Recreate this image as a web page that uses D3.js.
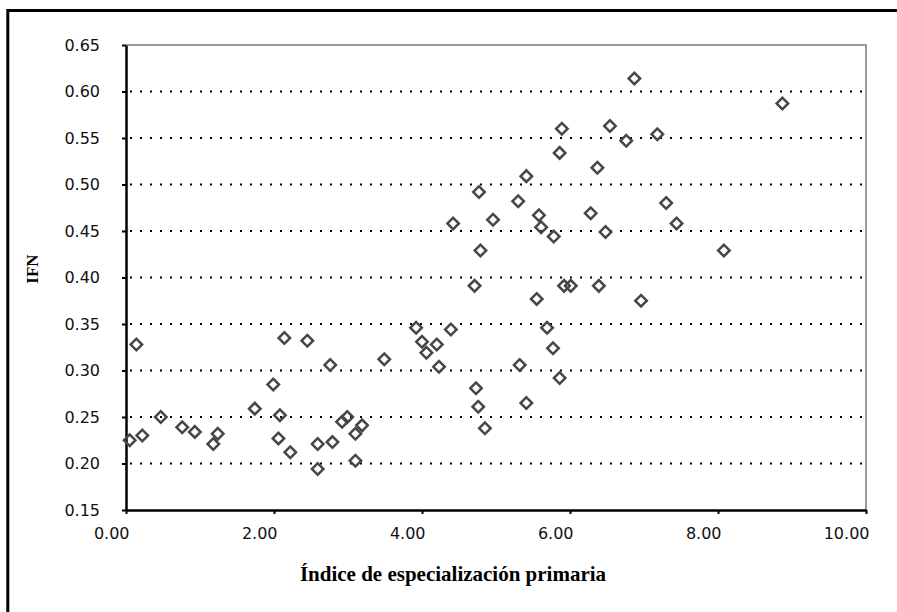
<!DOCTYPE html>
<html>
<head>
<meta charset="utf-8">
<script src="https://cdn.jsdelivr.net/npm/d3@7"></script>
<style>
  body { margin: 0; background: white; }
  .tick text { font-family: "DejaVu Sans", Verdana, sans-serif; font-size: 16px; fill: #111; }
  .title { font-family: "Times New Roman", "Liberation Serif", serif; font-weight: bold; fill: #000; }
</style>
</head>
<body>
<div id="chart"></div>
<script>
var width = 897
var height = 612
var margin = {top: 45, right: 31, bottom: 102, left: 126}

// Data

var indice = [0.05, 0.14, 0.22, 0.47, 0.76, 0.93, 1.18, 1.24, 1.74, 1.99,
              2.06, 2.08, 2.14, 2.22, 2.45, 2.59, 2.59, 2.76, 2.79, 2.92,
              2.99, 3.10, 3.10, 3.19, 3.49, 3.92, 4.00, 4.06, 4.20, 4.23,
              4.39, 4.42, 4.71, 4.73, 4.76, 4.77, 4.79, 4.85, 4.96, 5.30,
              5.32, 5.41, 5.41, 5.55, 5.58, 5.61, 5.69, 5.77, 5.78, 5.86,
              5.86, 5.89, 5.92, 6.01, 6.28, 6.37, 6.39, 6.48, 6.54, 6.76,
              6.87, 6.96, 7.18, 7.30, 7.44, 8.08, 8.87];
var ifn = [0.225, 0.328, 0.230, 0.250, 0.239, 0.234, 0.221, 0.232, 0.259, 0.285,
           0.227, 0.252, 0.335, 0.212, 0.332, 0.221, 0.194, 0.306, 0.223, 0.245,
           0.250, 0.232, 0.203, 0.241, 0.312, 0.346, 0.331, 0.319, 0.328, 0.304,
           0.344, 0.458, 0.391, 0.281, 0.261, 0.492, 0.429, 0.238, 0.462, 0.482,
           0.306, 0.509, 0.265, 0.377, 0.467, 0.454, 0.346, 0.324, 0.444, 0.534,
           0.292, 0.560, 0.391, 0.391, 0.469, 0.518, 0.391, 0.449, 0.563, 0.547,
           0.614, 0.375, 0.554, 0.480, 0.458, 0.429, 0.587];
var xTicks = [0, 2, 4, 6, 8, 10];
var yTicks = [0.15, 0.20, 0.25, 0.30, 0.35, 0.40, 0.45, 0.50, 0.55, 0.60, 0.65];
var xTitle = "Índice de especialización primaria";
var yTitle = "IFN";

var points = indice.map(function(d, i) { return {x: d, y: ifn[i]}; });

var x_scale = d3.scaleLinear()
    .domain([0, 10])
    .range([margin.left, width - margin.right]);

var y_scale = d3.scaleLinear()
    .domain([0.15, 0.65])
    .range([height - margin.bottom, margin.top]);

var svg = d3.select("#chart")
    .append("svg")
    .attr("width", width)
    .attr("height", height)
    .style("background-color", "white");

// Outer frame (only left and top edges show)

svg.append("path")
    .attr("d", "M7.8," + height + "V10.5H" + width)
    .attr("fill", "none")
    .attr("stroke", "#000")
    .attr("stroke-width", 3);

// Plot area: grey top and right edges

svg.append("path")
    .attr("d", "M" + x_scale(0) + "," + y_scale(0.65) + "H" + x_scale(10) + "V" + y_scale(0.15))
    .attr("fill", "none")
    .attr("stroke", "#9a9a9a")
    .attr("stroke-width", 2);

// Dotted gridlines

svg.append("g")
    .selectAll("line")
    .data(yTicks.slice(1, -1))
    .enter()
    .append("line")
    .attr("x1", x_scale(0) + 4)
    .attr("x2", x_scale(10))
    .attr("y1", function(d) { return y_scale(d); })
    .attr("y2", function(d) { return y_scale(d); })
    .attr("stroke", "#000")
    .attr("stroke-width", 2)
    .attr("stroke-dasharray", "2,8");

// Axes

var yAxis = d3.axisLeft(y_scale)
    .tickValues(yTicks)
    .tickFormat(d3.format(".2f"))
    .tickSizeInner(4)
    .tickSizeOuter(0)
    .tickPadding(22);

var xAxis = d3.axisBottom(x_scale)
    .tickValues(xTicks)
    .tickFormat(d3.format(".2f"))
    .tickSizeInner(4)
    .tickSizeOuter(0)
    .tickPadding(14);

var gy = svg.append("g")
    .attr("transform", "translate(" + margin.left + ",0)")
    .call(yAxis);

var gx = svg.append("g")
    .attr("transform", "translate(0," + (height - margin.bottom) + ")")
    .call(xAxis);

gx.selectAll(".tick text")
    .attr("text-anchor", "end")
    .attr("dx", 3);

[gx, gy].forEach(function(g) {
    g.select(".domain").attr("stroke", "#000").attr("stroke-width", 2.5);
    g.selectAll(".tick line").attr("stroke", "#000").attr("stroke-width", 2);
});

// Points

svg.append("g")
    .selectAll("path")
    .data(points)
    .enter()
    .append("path")
    .attr("d", d3.symbol().type(d3.symbolSquare).size(66))
    .attr("transform", function(d) {
        return "translate(" + x_scale(d.x) + "," + y_scale(d.y) + ") rotate(45)";
    })
    .attr("fill", "none")
    .attr("stroke", "#474747")
    .attr("stroke-width", 2.5);

// Axis titles

svg.append("text")
    .attr("class", "title")
    .attr("x", 453)
    .attr("y", 581)
    .attr("text-anchor", "middle")
    .style("font-size", "21px")
    .text(xTitle);

svg.append("text")
    .attr("class", "title")
    .attr("transform", "translate(38,269) rotate(-90)")
    .attr("text-anchor", "middle")
    .style("font-size", "17px")
    .text(yTitle);
</script>
</body>
</html>
